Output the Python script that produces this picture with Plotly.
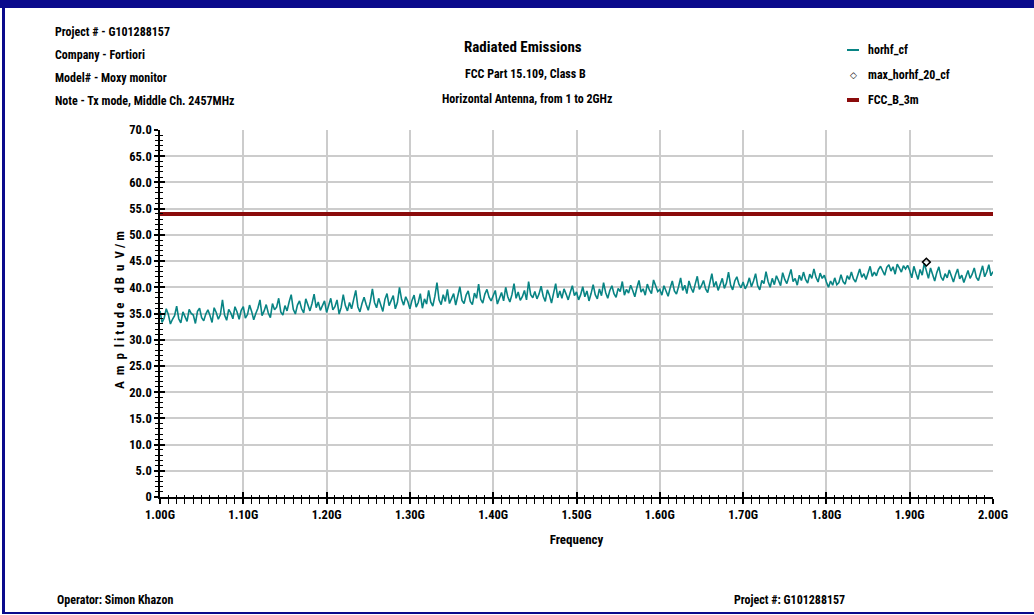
import plotly.graph_objects as go

# ---------------- data ----------------
freq_start_ghz = 1.0
freq_step_ghz = 0.0025

horhf_cf = [
    # 1.00 - 1.10 GHz
    35.5, 33.3, 34.1, 35.9, 34.8, 33.0, 33.9, 34.6, 36.4, 34.0, 33.2, 35.3, 34.4, 33.5, 35.8, 35.0, 34.7, 33.1, 35.4, 36.0,
    34.2, 33.6, 34.9, 35.7, 34.6, 33.3, 36.1, 35.2, 33.9, 34.8, 37.6, 34.7, 33.7, 35.8, 35.1, 34.0, 36.3, 35.3, 33.9, 35.6,
    # 1.10 - 1.20 GHz
    36.3, 34.1, 34.8, 36.6, 35.4, 33.8, 35.0, 36.0, 37.6, 34.6, 35.5, 36.7, 35.1, 34.2, 36.9, 35.7, 36.2, 37.9, 35.3, 34.7,
    36.5, 35.5, 37.2, 38.6, 35.8, 34.9, 36.6, 37.4, 35.9, 35.1, 37.8, 36.4, 35.5, 36.9, 38.7, 36.1, 37.2, 35.6, 36.5, 37.4,
    # 1.20 - 1.30 GHz
    35.2, 36.8, 37.9, 35.7, 36.3, 37.6, 34.9, 36.2, 38.6, 36.5, 35.5, 37.1, 35.9, 37.7, 39.4, 36.3, 35.3, 36.9, 38.1, 36.7,
    35.6, 37.3, 39.7, 37.1, 36.1, 37.9, 36.7, 35.4, 37.7, 38.8, 36.5, 37.5, 38.4, 35.9, 37.1, 40.0, 37.7, 36.6, 38.2, 37.3,
    # 1.30 - 1.40 GHz
    35.9, 37.5, 38.5, 36.2, 37.1, 38.8, 36.0, 37.8, 36.8, 39.4, 37.2, 36.4, 38.3, 40.9, 37.6, 36.7, 38.6, 37.3, 39.6, 36.9,
    37.8, 38.8, 36.6, 38.1, 40.1, 37.5, 36.9, 38.5, 39.3, 37.3, 36.7, 38.9, 37.9, 40.6, 37.7, 37.0, 38.7, 39.6, 38.1, 37.4,
    # 1.40 - 1.50 GHz
    38.3, 39.4, 36.8, 37.8, 39.0, 37.4, 40.0, 38.2, 37.2, 38.6, 40.7, 37.9, 39.1, 37.5, 38.2, 39.4, 37.6, 41.1, 38.6, 38.0,
    39.2, 37.8, 38.7, 40.2, 38.3, 37.3, 39.5, 38.5, 37.0, 38.9, 40.7, 38.0, 39.3, 37.9, 39.7, 38.7, 37.6, 39.0, 40.3, 38.4,
    # 1.50 - 1.60 GHz
    39.1, 37.6, 38.6, 40.1, 38.2, 39.3, 37.4, 38.8, 40.5, 38.6, 37.8, 39.7, 38.4, 40.9, 39.0, 37.9, 39.4, 40.3, 38.8, 38.1,
    39.8, 39.2, 41.1, 38.5, 39.6, 38.9, 40.4, 39.4, 38.2, 39.9, 41.3, 39.1, 39.7, 38.5, 40.6, 39.5, 38.8, 41.4, 40.1, 39.2,
    # 1.60 - 1.70 GHz
    39.6, 38.5, 40.3, 39.2, 38.3, 39.9, 41.2, 39.3, 38.7, 40.1, 41.8, 39.4, 40.4, 38.8, 41.2, 39.9, 39.0, 40.6, 42.1, 39.6,
    40.3, 41.3, 39.7, 39.0, 40.7, 42.6, 40.1, 41.1, 39.4, 40.5, 41.7, 39.8, 40.8, 42.9, 40.4, 39.5, 41.2, 42.0, 40.6, 39.9,
    # 1.70 - 1.80 GHz
    41.0, 39.7, 40.5, 41.8, 40.1, 41.2, 42.6, 40.3, 39.5, 41.3, 40.7, 43.0, 41.1, 40.0, 41.7, 40.5, 42.2, 41.3, 40.3, 42.8,
    41.5, 40.7, 41.9, 43.4, 41.1, 41.7, 40.4, 42.3, 41.3, 42.9, 41.5, 40.8, 42.5, 41.7, 43.5, 41.9, 41.0, 42.7, 41.7, 42.3,
    # 1.80 - 1.90 GHz
    41.0, 40.0, 41.2, 40.4, 41.8, 40.5, 40.9, 42.4, 41.1, 40.6, 42.2, 41.5, 42.9, 41.6, 41.0, 42.5, 43.5, 41.9, 42.6, 41.5,
    42.9, 44.0, 42.1, 42.9, 42.2, 43.4, 44.0, 43.0, 42.3, 43.8, 44.3, 43.1, 43.9, 42.5, 44.4, 43.7, 42.9, 44.1, 43.5, 44.2,
    # 1.90 - 2.00 GHz
    43.2, 41.8, 44.0, 42.7, 41.5, 43.4, 42.3, 44.6, 43.0, 41.7, 43.7, 42.2, 41.2, 42.8, 43.9, 42.0, 41.3, 42.6, 41.8, 43.3,
    42.2, 41.0, 42.4, 43.5, 41.6, 42.3, 40.9, 42.1, 43.2, 41.7, 42.5, 43.7, 41.9, 41.3, 42.7, 44.1, 42.0, 42.9, 44.3, 42.2,
    43.0,
]
freq_ghz = [freq_start_ghz + i * freq_step_ghz for i in range(len(horhf_cf))]

max_freq_ghz = [1.92]
max_amp = [44.8]

limit_freq_ghz = [1.0, 2.0]
limit_amp = [54.0, 54.0]

x_tickvals = [1.0, 1.1, 1.2, 1.3, 1.4, 1.5, 1.6, 1.7, 1.8, 1.9, 2.0]
x_ticktext = ["1.00G", "1.10G", "1.20G", "1.30G", "1.40G", "1.50G", "1.60G", "1.70G", "1.80G", "1.90G", "2.00G"]
y_tickvals = [0, 5, 10, 15, 20, 25, 30, 35, 40, 45, 50, 55, 60, 65, 70]
y_ticktext = ["0", "5.0", "10.0", "15.0", "20.0", "25.0", "30.0", "35.0", "40.0", "45.0", "50.0", "55.0", "60.0", "65.0", "70.0"]

legend_names = ["horhf_cf", "max_horhf_20_cf", "FCC_B_3m"]

# ---------------- styling ----------------
W, H = 1034, 615
PL, PR, PT, PB = 160, 993, 130, 497   # plot-area pixel box
FONT = "Roboto Condensed, Liberation Sans Narrow, Liberation Sans, Arial, sans-serif"
TEAL = "#088484"
DARKRED = "#8b0b0b"
NAVY = "#0a0a8c"
GRID = "#cccccc"


def px(x):
    return (x - PL) / (PR - PL)


def py(y):
    return (PB - y) / (PB - PT)


def f(size):
    return dict(family=FONT, size=size, color="black", weight="bold")


fig = go.Figure()
fig.add_trace(go.Scatter(x=freq_ghz, y=horhf_cf, mode="lines", name=legend_names[0],
                         line=dict(color=TEAL, width=1.6), showlegend=False))
fig.add_trace(go.Scatter(x=limit_freq_ghz, y=limit_amp, mode="lines", name=legend_names[2],
                         line=dict(color=DARKRED, width=4), showlegend=False,
                         xaxis="x2", yaxis="y2"))
fig.add_trace(go.Scatter(x=max_freq_ghz, y=max_amp, mode="markers", name=legend_names[1],
                         marker=dict(symbol="diamond-open", size=6, color="black",
                                     line=dict(width=1.5, color="black")),
                         showlegend=False, xaxis="x2", yaxis="y2"))

common_x = dict(range=[1.0, 2.0], fixedrange=True)
common_y = dict(range=[0, 70], fixedrange=True)

fig.update_layout(
    width=W, height=H,
    margin=dict(l=PL, r=W - PR, t=PT, b=H - PB),
    paper_bgcolor="white", plot_bgcolor="white",
    xaxis=dict(**common_x, tickmode="array", tickvals=x_tickvals, ticktext=x_ticktext,
               tickfont=f(12.5), ticks="outside", ticklen=5, tickwidth=1.5, tickcolor="black",
               showline=True, linecolor="black", linewidth=1.5,
               showgrid=True, gridcolor=GRID, gridwidth=2, zeroline=False,
               minor=dict(tick0=1.0, dtick=0.01, ticks="outside", ticklen=5, tickwidth=1,
                          tickcolor="black", showgrid=False),
               title=dict(text="Frequency", font=f(13), standoff=14)),
    yaxis=dict(**common_y, tickmode="array", tickvals=y_tickvals, ticktext=y_ticktext,
               tickfont=f(12.5), ticks="outside", ticklen=4, tickwidth=1.5, tickcolor="black",
               showline=True, linecolor="black", linewidth=1.5,
               showgrid=True, gridcolor=GRID, gridwidth=2, zeroline=False,
               minor=dict(tick0=0, dtick=1, ticks="outside", ticklen=3, tickwidth=1,
                          tickcolor="black", showgrid=False)),
    xaxis2=dict(**common_x, overlaying="x", anchor="y2", side="bottom",
                tickmode="array", tickvals=x_tickvals, showticklabels=False,
                ticks="inside", ticklen=5, tickwidth=1.5, tickcolor="black",
                showline=False, showgrid=False, zeroline=False,
                minor=dict(tick0=1.0, dtick=0.01, ticks="inside", ticklen=2, tickwidth=1,
                           tickcolor="black", showgrid=False)),
    yaxis2=dict(**common_y, overlaying="y", anchor="x2", side="left",
                tickmode="array", tickvals=y_tickvals, showticklabels=False,
                ticks="inside", ticklen=5, tickwidth=1.5, tickcolor="black",
                showline=False, showgrid=False, zeroline=False,
                minor=dict(tick0=0, dtick=1, ticks="inside", ticklen=3, tickwidth=1,
                           tickcolor="black", showgrid=False)),
    showlegend=False,
)

ann = []


def text(x, y, s, size=12, xanchor="left", angle=0):
    ann.append(dict(x=px(x), y=py(y), xref="paper", yref="paper", text=s, showarrow=False,
                    xanchor=xanchor, yanchor="middle", textangle=angle, font=f(size)))


# header left
text(53, 32, "Project # - G101288157")
text(53, 55, "Company - Fortiori")
text(53, 78, "Model# - Moxy monitor")
text(53, 101, "Note - Tx mode, Middle Ch. 2457MHz")
# title block
text(523, 47, "Radiated Emissions", size=15, xanchor="center")
text(525, 74, "FCC Part 15.109, Class B", xanchor="center")
text(527, 99, "Horizontal Antenna, from 1 to 2GHz", xanchor="center")
# y-axis title
text(119, 310, "A  m  p  l i t u d e   d B  u  V / m", size=13, angle=-90, xanchor="center")
# footer
text(55, 600, "Operator: Simon Khazon")
text(732, 600, "Project #: G101288157")
# legend texts
for yy, name in zip([50, 75, 100], legend_names):
    text(866, yy, name)

# legend diamond marker
ann.append(dict(x=px(853), y=py(75), xref="paper", yref="paper", text="◇", showarrow=False,
                xanchor="center", yanchor="middle", font=dict(size=9, color="black")))
fig.update_layout(annotations=ann)

shapes = [
    # legend glyphs
    dict(type="line", xref="paper", yref="paper", x0=px(847), x1=px(859), y0=py(50), y1=py(50),
         line=dict(color=TEAL, width=2)),
    dict(type="line", xref="paper", yref="paper", x0=px(847), x1=px(859), y0=py(100), y1=py(100),
         line=dict(color=DARKRED, width=4)),
    # page frame
    dict(type="rect", xref="paper", yref="paper", x0=px(0), x1=px(W), y0=py(0), y1=py(8),
         fillcolor=NAVY, line=dict(width=0)),
    dict(type="rect", xref="paper", yref="paper", x0=px(2), x1=px(5), y0=py(0), y1=py(614),
         fillcolor=NAVY, line=dict(width=0)),
    dict(type="rect", xref="paper", yref="paper", x0=px(2), x1=px(W), y0=py(612), y1=py(614),
         fillcolor=NAVY, line=dict(width=0)),
]
fig.update_layout(shapes=shapes)

fig.write_html("out.html")
